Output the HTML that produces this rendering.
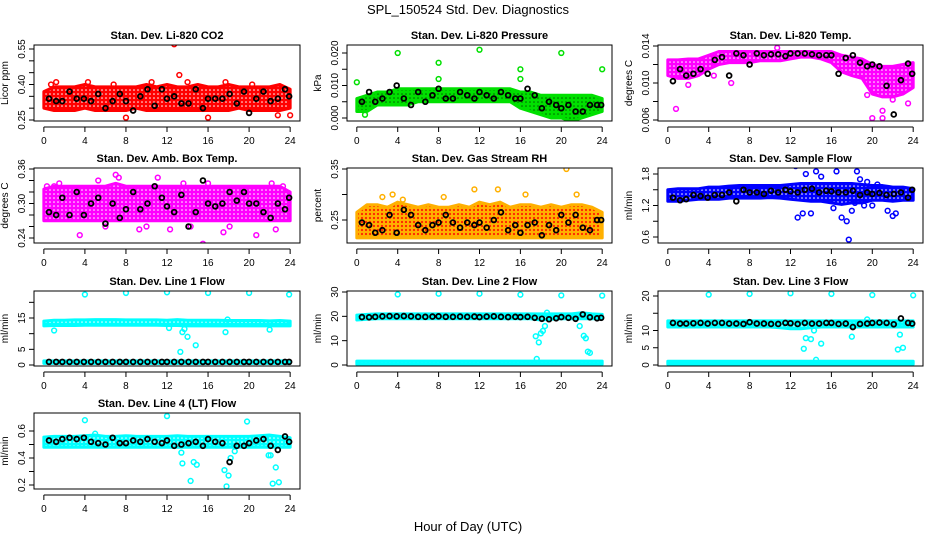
<!DOCTYPE html>
<html><head><meta charset="utf-8"><style>
html,body{margin:0;padding:0;background:#fff}
svg{display:block;font-family:"Liberation Sans",sans-serif}
</style></head><body>
<svg id="chart" width="936" height="540" viewBox="0 0 936 540">
<defs id="defs"></defs>
<text x="468" y="14" text-anchor="middle" font-size="13">SPL_150524  Std. Dev. Diagnostics</text>
<text x="468" y="531" text-anchor="middle" font-size="13">Hour of Day (UTC)</text>
</svg>
<script>
const hours = [0,1,2,3,4,5,6,7,8,9,10,11,12,13,14,15,16,17,18,19,20,21,22,23,24];
const blackX = [0.5,1.2,1.8,2.5,3.2,3.9,4.6,5.3,6.0,6.7,7.4,8.0,8.7,9.4,10.1,10.8,11.5,12.0,12.7,13.4,14.1,14.8,15.5,16.0,16.7,17.4,18.1,18.8,19.5,20.0,20.7,21.4,22.1,22.8,23.5,23.9];
const xTicks = [0,4,8,12,16,20,24];

const co2Lo = [0.30,0.29,0.29,0.29,0.30,0.29,0.29,0.29,0.29,0.30,0.29,0.29,0.29,0.29,0.29,0.29,0.29,0.29,0.29,0.30,0.29,0.29,0.29,0.29,0.30];
const co2Hi = [0.37,0.39,0.39,0.39,0.40,0.39,0.39,0.39,0.39,0.39,0.40,0.39,0.40,0.39,0.39,0.40,0.39,0.39,0.40,0.39,0.39,0.39,0.39,0.40,0.38];
const co2Black = [0.34,0.33,0.33,0.37,0.34,0.34,0.33,0.36,0.30,0.33,0.36,0.33,0.29,0.35,0.38,0.31,0.38,0.34,0.35,0.32,0.32,0.38,0.30,0.34,0.34,0.34,0.36,0.32,0.37,0.28,0.34,0.37,0.33,0.34,0.38,0.35];
const co2OutX = [12.7,13.2,16.0,8.0,24.0,4.3,0.7,10.5,17.7,22.8,6.8,14.0,20.3,1.2];
const co2OutY = [0.57,0.44,0.26,0.26,0.27,0.41,0.40,0.41,0.41,0.27,0.40,0.41,0.40,0.41];

const presLo = [0.002,0.002,0.004,0.004,0.004,0.004,0.005,0.005,0.005,0.005,0.005,0.005,0.005,0.005,0.005,0.005,0.003,0.002,0.001,0.000,0.000,-0.001,0.000,0.001,0.002];
const presHi = [0.006,0.007,0.008,0.008,0.009,0.009,0.009,0.009,0.009,0.009,0.009,0.009,0.009,0.009,0.009,0.009,0.008,0.008,0.007,0.007,0.007,0.007,0.007,0.007,0.006];
const presBlack = [0.005,0.008,0.005,0.006,0.008,0.010,0.006,0.004,0.008,0.005,0.007,0.009,0.006,0.006,0.008,0.007,0.006,0.008,0.007,0.006,0.008,0.007,0.006,0.006,0.009,0.007,0.003,0.005,0.004,0.003,0.004,0.002,0.002,0.004,0.004,0.004];
const presOutX = [0,4,8,8,12,16,16,20,24,0.8];
const presOutY = [0.011,0.020,0.017,0.012,0.021,0.015,0.012,0.020,0.015,0.001];

const tempLo = [0.0108,0.0105,0.0105,0.0108,0.0115,0.0120,0.0122,0.0122,0.0122,0.0124,0.0124,0.0124,0.0126,0.0128,0.0128,0.0126,0.0122,0.0112,0.0108,0.0105,0.0088,0.0085,0.0085,0.0088,0.0095];
const tempHi = [0.0125,0.0125,0.0126,0.0126,0.0130,0.0134,0.0134,0.0134,0.0134,0.0134,0.0134,0.0134,0.0134,0.0134,0.0134,0.0134,0.0134,0.0130,0.0128,0.0126,0.0120,0.0118,0.0118,0.0120,0.0122];
const tempBlack = [0.0102,0.0115,0.0108,0.0110,0.0115,0.0110,0.0125,0.0128,0.0108,0.0132,0.0130,0.0120,0.0132,0.0130,0.0131,0.0131,0.0129,0.0132,0.0132,0.0132,0.0131,0.0130,0.0130,0.0130,0.0110,0.0127,0.0130,0.0122,0.0118,0.0120,0.0118,0.0097,0.0066,0.0103,0.0121,0.0110];
const tempOutX = [0.8,20.0,21.0,21.0,23.5,10.7,4.5,6.2,19.5,22.0,2.0];
const tempOutY = [0.0072,0.0062,0.0062,0.0070,0.0078,0.0138,0.0108,0.0100,0.0087,0.0082,0.0098];

const ambLo = [0.27,0.27,0.27,0.27,0.27,0.27,0.27,0.27,0.27,0.27,0.27,0.27,0.27,0.27,0.27,0.27,0.27,0.27,0.27,0.27,0.27,0.27,0.27,0.27,0.27];
const ambHi = [0.325,0.33,0.33,0.33,0.33,0.33,0.33,0.335,0.33,0.33,0.33,0.33,0.33,0.33,0.33,0.33,0.33,0.33,0.33,0.33,0.33,0.33,0.33,0.33,0.32];
const ambBlack = [0.285,0.28,0.31,0.28,0.32,0.28,0.30,0.31,0.265,0.30,0.275,0.29,0.32,0.29,0.30,0.33,0.31,0.295,0.285,0.315,0.26,0.285,0.34,0.30,0.295,0.30,0.32,0.305,0.32,0.30,0.30,0.285,0.275,0.30,0.29,0.31];
const ambOutX = [0.3,1.0,1.5,3.5,5.3,7.0,7.3,9.3,11.1,13.6,15.5,16.0,17.5,18.1,20.7,22.2,22.6,23.3,6.0,10.0,12.3,14.3];
const ambOutY = [0.33,0.33,0.335,0.245,0.34,0.35,0.345,0.255,0.345,0.335,0.23,0.335,0.25,0.26,0.245,0.335,0.255,0.33,0.26,0.26,0.255,0.26];

const rhLo = [0.215,0.215,0.215,0.215,0.215,0.215,0.215,0.215,0.215,0.215,0.215,0.215,0.215,0.215,0.215,0.215,0.215,0.215,0.215,0.215,0.215,0.215,0.215,0.215,0.215];
const rhHi = [0.265,0.28,0.28,0.275,0.285,0.28,0.275,0.28,0.275,0.275,0.28,0.275,0.285,0.28,0.285,0.275,0.28,0.28,0.275,0.28,0.275,0.28,0.28,0.275,0.265];
const rhBlack = [0.245,0.24,0.225,0.23,0.26,0.225,0.27,0.26,0.24,0.23,0.24,0.245,0.26,0.245,0.235,0.245,0.24,0.245,0.235,0.25,0.265,0.23,0.24,0.225,0.24,0.245,0.22,0.24,0.23,0.26,0.245,0.26,0.235,0.23,0.25,0.25];
const rhOutX = [20.5,13.8,2.5,3.5,4.5,11.5,16.5,21.5,8.5];
const rhOutY = [0.35,0.31,0.295,0.30,0.29,0.31,0.30,0.30,0.295];

const flowLo = [1.28,1.28,1.30,1.32,1.32,1.32,1.34,1.34,1.34,1.34,1.35,1.34,1.32,1.30,1.28,1.28,1.25,1.22,1.25,1.25,1.30,1.30,1.28,1.30,1.30];
const flowHi = [1.50,1.52,1.52,1.52,1.55,1.55,1.57,1.58,1.58,1.58,1.58,1.58,1.60,1.62,1.62,1.62,1.62,1.62,1.62,1.60,1.58,1.58,1.55,1.55,1.52];
const flowBlack = [1.35,1.30,1.32,1.40,1.38,1.35,1.40,1.40,1.45,1.28,1.50,1.45,1.45,1.42,1.48,1.45,1.50,1.47,1.45,1.50,1.52,1.45,1.48,1.47,1.45,1.45,1.48,1.40,1.45,1.42,1.44,1.40,1.42,1.45,1.35,1.50];
const flowOutX = [12.5,12.7,13.2,14.0,14.5,16.2,17.0,17.5,17.7,18.0,18.3,18.5,18.8,19.2,19.5,20.5,21.5,22.0,22.3,13.5,15.0,16.5,20.0];
const flowOutY = [1.95,0.97,1.05,1.05,1.85,1.15,0.97,0.90,0.55,1.10,1.25,1.85,1.70,1.20,1.65,1.60,1.10,1.00,1.05,1.80,1.75,1.85,1.20];

const l1Lo = [12.5,12.6,12.6,12.6,12.7,12.7,12.7,12.7,12.7,12.7,12.7,12.7,12.6,12.6,12.5,12.5,12.5,12.5,12.5,12.5,12.5,12.5,12.5,12.5,12.5];
const l1Hi = [14.0,14.3,14.3,14.4,14.4,14.5,14.5,14.5,14.4,14.4,14.4,14.4,14.3,14.5,14.3,14.3,14.3,14.3,14.2,14.2,14.2,14.2,14.1,14.2,14.0];
const l1Lo2 = [0.5,0.5,0.5,0.5,0.5,0.5,0.5,0.5,0.5,0.5,0.5,0.5,0.5,0.5,0.5,0.5,0.5,0.5,0.5,0.5,0.5,0.5,0.5,0.5,0.5];
const l1Hi2 = [1.3,1.3,1.3,1.3,1.3,1.3,1.3,1.3,1.3,1.3,1.3,1.3,1.3,1.3,1.3,1.3,1.3,1.3,1.3,1.3,1.3,1.3,1.3,1.3,1.3];
const l1Black = [1.0,1.0,1.0,1.0,1.0,1.0,1.0,1.0,1.0,1.0,1.0,1.0,1.0,1.0,1.0,1.0,1.0,1.0,1.0,1.0,1.0,1.0,1.0,1.0,1.0,1.0,1.0,1.0,1.0,1.0,1.0,1.0,1.0,1.0,1.0,1.0];
const l1OutX = [4,8,12,16,20,23.9,1.0,13.5,13.7,14.0,14.8,13.3,17.7,17.9,22.0,12.2];
const l1OutY = [22.5,23.0,23.2,23.0,23.0,22.5,11.0,10.5,11.5,9.0,6.3,4.2,10.5,14.5,11.3,11.8];

const l2Lo = [18.5,18.8,19.0,19.0,19.0,19.0,19.0,19.0,19.0,19.0,19.0,19.0,19.0,19.0,19.0,19.0,19.0,19.0,18.5,18.8,19.0,19.0,19.0,19.0,19.0];
const l2Hi = [20.5,20.8,21.0,21.0,21.0,21.0,21.0,21.0,21.0,21.0,21.0,21.0,21.0,21.0,21.0,21.0,21.0,21.0,21.0,21.0,21.0,21.0,21.5,21.0,20.8];
const l2Lo2 = [0.3,0.3,0.3,0.3,0.3,0.3,0.3,0.3,0.3,0.3,0.3,0.3,0.3,0.3,0.3,0.3,0.3,0.3,0.3,0.3,0.3,0.3,0.3,0.3,0.3];
const l2Hi2 = [1.6,1.6,1.6,1.6,1.6,1.6,1.6,1.6,1.6,1.6,1.6,1.6,1.6,1.6,1.6,1.6,1.6,1.6,1.6,1.6,1.6,1.6,1.6,1.6,1.6];
const l2Black = [19.7,19.6,19.8,20.0,20.1,20.0,20.1,20.0,19.8,19.8,19.9,20.0,19.8,19.8,19.9,19.8,19.9,19.7,19.9,20.0,19.8,19.7,19.8,19.7,19.8,19.4,19.0,18.8,19.2,19.7,19.4,19.0,20.8,19.6,19.2,19.4];
const l2OutX = [4,8,12,16,20,24,17.5,17.8,18.0,18.2,18.4,18.6,21.8,22.2,22.4,22.6,22.8,17.6];
const l2OutY = [29.0,29.3,29.3,28.9,28.6,28.5,11.8,9.3,13.0,14.0,16.0,21.5,16.0,12.0,11.0,5.5,5.0,2.5];

const l3Lo = [11.0,11.0,11.0,11.0,11.0,11.0,11.0,11.0,11.0,11.0,11.0,10.8,10.5,10.5,10.8,11.0,11.0,11.0,11.0,11.0,11.0,11.0,11.0,11.0,11.0];
const l3Hi = [12.8,12.8,12.8,12.8,12.8,12.8,12.8,12.8,12.8,12.8,12.8,12.8,12.8,12.8,12.8,12.8,12.8,12.8,12.8,12.8,12.8,12.8,12.8,12.8,12.8];
const l3Lo2 = [0.2,0.2,0.2,0.2,0.2,0.2,0.2,0.2,0.2,0.2,0.2,0.2,0.2,0.2,0.2,0.2,0.2,0.2,0.2,0.2,0.2,0.2,0.2,0.2,0.2];
const l3Hi2 = [1.1,1.1,1.1,1.1,1.1,1.1,1.1,1.1,1.1,1.1,1.1,1.1,1.1,1.1,1.1,1.1,1.1,1.1,1.1,1.1,1.1,1.1,1.1,1.1,1.1];
const l3Black = [12.2,12.0,12.0,12.1,12.2,12.0,12.2,12.2,12.0,12.0,11.9,12.4,12.0,12.0,11.9,11.9,12.2,12.1,11.9,12.2,12.0,12.0,12.2,12.2,11.9,12.0,11.0,11.9,12.0,12.2,12.3,12.2,11.8,13.5,12.2,12.0];
const l3OutX = [4,8,12,16,20,24,13.3,13.5,14.0,14.3,15.0,18.0,22.5,22.7,23.0,14.5,19.5];
const l3OutY = [20.4,20.6,20.8,20.6,20.3,20.2,4.7,7.8,7.5,10.0,6.2,8.2,4.5,8.8,5.0,1.5,13.2];

const l4Lo = [0.48,0.48,0.48,0.48,0.48,0.48,0.48,0.48,0.48,0.48,0.48,0.48,0.48,0.48,0.48,0.48,0.48,0.48,0.48,0.48,0.48,0.48,0.48,0.48,0.48];
const l4Hi = [0.555,0.56,0.56,0.56,0.565,0.57,0.56,0.56,0.565,0.56,0.56,0.56,0.56,0.565,0.56,0.56,0.56,0.56,0.56,0.56,0.56,0.565,0.57,0.56,0.55];
const l4Black = [0.53,0.52,0.54,0.55,0.54,0.55,0.52,0.51,0.50,0.55,0.51,0.51,0.53,0.52,0.54,0.52,0.51,0.53,0.49,0.50,0.51,0.52,0.49,0.54,0.52,0.51,0.37,0.49,0.49,0.51,0.53,0.54,0.49,0.46,0.56,0.52];
const l4OutX = [4,12,19.8,13.5,14.3,14.6,14.9,13.4,17.6,17.8,18.0,18.2,18.6,21.9,22.1,22.3,22.6,22.9,5.0];
const l4OutY = [0.68,0.71,0.67,0.36,0.23,0.37,0.35,0.44,0.31,0.19,0.27,0.40,0.45,0.42,0.42,0.21,0.33,0.22,0.58];

const svg = document.getElementById('chart');
const defs = document.getElementById('defs');
const NS = 'http://www.w3.org/2000/svg';
function mk(tag, attrs, parent){ const e=document.createElementNS(NS,tag); for(const k in attrs) e.setAttribute(k,attrs[k]); (parent||svg).appendChild(e); return e; }

const cols = [[34,300],[347,612],[658,923]];
const rows = [[45,121],[168,243],[291,366],[413,489]];
const panels = [
 {key:'co2',title:'Stan. Dev. Li-820 CO2',ylab:'Licor ppm',c:0,r:0,v1:0.25,p1:120,v2:0.55,p2:49,ticks:[0.25,0.30,0.35,0.40,0.45,0.50,0.55],labels:[0.25,0.40,0.55],dig:2,col:'#ff0000',dot:'#fff',dr:0.8,lo:co2Lo,hi:co2Hi,by:co2Black,ox:co2OutX,oy:co2OutY},
 {key:'pressure',title:'Stan. Dev. Li-820 Pressure',ylab:'kPa',c:1,r:0,v1:0,p1:118,v2:0.02,p2:53,ticks:[0,0.005,0.01,0.015,0.02],labels:[0,0.01,0.02],dig:3,col:'#00e000',dot:'#006600',dr:0.8,lo:presLo,hi:presHi,by:presBlack,ox:presOutX,oy:presOutY},
 {key:'temp',title:'Stan. Dev. Li-820 Temp.',ylab:'degrees C',c:2,r:0,v1:0.006,p1:120,v2:0.014,p2:46,ticks:[0.006,0.008,0.01,0.012,0.014],labels:[0.006,0.01,0.014],dig:3,col:'#ff00ff',dot:'#fff',dr:0.8,lo:tempLo,hi:tempHi,by:tempBlack,ox:tempOutX,oy:tempOutY},
 {key:'amb',title:'Stan. Dev. Amb. Box Temp.',ylab:'degrees C',c:0,r:1,v1:0.24,p1:238,v2:0.36,p2:169,ticks:[0.24,0.26,0.28,0.30,0.32,0.34,0.36],labels:[0.24,0.30,0.36],dig:2,col:'#ff00ff',dot:'#fff',dr:0.8,lo:ambLo,hi:ambHi,by:ambBlack,ox:ambOutX,oy:ambOutY},
 {key:'rh',title:'Stan. Dev. Gas Stream RH',ylab:'percent',c:1,r:1,v1:0.25,p1:220,v2:0.35,p2:169,ticks:[0.25,0.30,0.35],labels:[0.25,0.35],dig:2,col:'#ffb000',dot:'#ff2000',dr:1.1,lo:rhLo,hi:rhHi,by:rhBlack,ox:rhOutX,oy:rhOutY},
 {key:'sample-flow',title:'Stan. Dev. Sample Flow',ylab:'ml/min',c:2,r:1,v1:0.6,p1:237,v2:1.8,p2:174,ticks:[0.6,0.9,1.2,1.5,1.8],labels:[0.6,1.2,1.8],dig:1,col:'#0000ff',dot:'#fff',dr:0.8,lo:flowLo,hi:flowHi,by:flowBlack,ox:flowOutX,oy:flowOutY},
 {key:'line1',title:'Stan. Dev. Line 1 Flow',ylab:'ml/min',c:0,r:2,v1:0,p1:365,v2:15,p2:318,ticks:[0,5,10,15,20],labels:[0,5,15],dig:0,col:'#00ffff',dot:'#fff',dr:0.8,lo:l1Lo,hi:l1Hi,lo2:l1Lo2,hi2:l1Hi2,by:l1Black,ox:l1OutX,oy:l1OutY},
 {key:'line2',title:'Stan. Dev. Line 2 Flow',ylab:'ml/min',c:1,r:2,v1:0,p1:365,v2:30,p2:292,ticks:[0,10,20,30],labels:[0,10,20,30],dig:0,col:'#00ffff',dot:'#fff',dr:0.8,lo:l2Lo,hi:l2Hi,lo2:l2Lo2,hi2:l2Hi2,by:l2Black,ox:l2OutX,oy:l2OutY},
 {key:'line3',title:'Stan. Dev. Line 3 Flow',ylab:'ml/min',c:2,r:2,v1:0,p1:365,v2:20,p2:296,ticks:[0,5,10,15,20],labels:[0,5,10,20],dig:0,col:'#00ffff',dot:'#fff',dr:0.8,lo:l3Lo,hi:l3Hi,lo2:l3Lo2,hi2:l3Hi2,by:l3Black,ox:l3OutX,oy:l3OutY},
 {key:'line4',title:'Stan. Dev. Line 4 (LT) Flow',ylab:'ml/min',c:0,r:3,v1:0.2,p1:485,v2:0.6,p2:431,ticks:[0.2,0.3,0.4,0.5,0.6],labels:[0.2,0.4,0.6],dig:1,col:'#00ffff',dot:'#fff',dr:0.8,lo:l4Lo,hi:l4Hi,by:l4Black,ox:l4OutX,oy:l4OutY}
];

panels.forEach((p,i)=>{
  const [x0,x1]=cols[p.c], [y0,y1]=rows[p.r];
  const X = h => x0 + (x1-x0)*(h+0.96)/25.92;
  const Y = v => p.p1 + (v-p.v1)*(p.p2-p.p1)/(p.v2-p.v1);
  const g = mk('g',{});
  
  
  const pat = mk('pattern',{id:'pat'+i,width:4,height:4,patternUnits:'userSpaceOnUse'},defs);
  mk('rect',{width:4,height:4,fill:p.col},pat);
  mk('circle',{cx:2,cy:2,r:p.dr,fill:p.dot},pat);
  const cp = mk('clipPath',{id:'clip'+i},defs);
  mk('rect',{x:x0,y:y0,width:x1-x0,height:y1-y0},cp);
  const t = mk('text',{x:(x0+x1)/2,y:y0-6,'text-anchor':'middle','font-size':11,'font-weight':'bold'},g);
  t.textContent = p.title;
  
  
  const yl = mk('text',{x:0,y:0,'text-anchor':'middle','font-size':10,transform:`translate(${x0-26},${(y0+y1)/2}) rotate(-90)`},g);
  yl.textContent = p.ylab;
  
  
  const plot = mk('g',{'clip-path':`url(#clip${i})`},g);
  
  
  const band = (lo,hi)=>{
    let pts = hours.map((h,j)=>X(h)+','+Y(hi[j]));
    pts = pts.concat(hours.map((h,j)=>X(h)+','+Y(lo[j])).reverse());
    const b = mk('polygon',{points:pts.join(' '),fill:`url(#pat${i})`,stroke:p.col,'stroke-width':3,'stroke-linejoin':'round'},plot);
    
    
  };
  band(p.lo,p.hi);
  if(p.lo2) band(p.lo2,p.hi2);
  p.ox.forEach((h,j)=>{
    const c = mk('circle',{cx:X(h),cy:Y(p.oy[j]),r:2.4,fill:'none',stroke:p.col,'stroke-width':1.5},plot);
    
    
  });
  blackX.forEach((h,j)=>{
    const c = mk('circle',{cx:X(h),cy:Y(p.by[j]),r:2.4,fill:'none',stroke:'#000','stroke-width':1.8},plot);
    
    
  });
  mk('rect',{x:x0,y:y0,width:x1-x0,height:y1-y0,fill:'none',stroke:'#000','stroke-width':1},g);
  const xa = mk('g',{},g);
  
  
  const ay = y1+6;
  mk('line',{x1:X(0),x2:X(24),y1:ay,y2:ay,stroke:'#000'},xa);
  xTicks.forEach(v=>{
    mk('line',{x1:X(v),x2:X(v),y1:ay,y2:ay+5,stroke:'#000'},xa);
    const tl = mk('text',{x:X(v),y:ay+17,'text-anchor':'middle','font-size':10},xa);
    tl.textContent = v;
    
    
  });
  const ya = mk('g',{},g);
  
  
  const t0=p.ticks[0], tn=p.ticks[p.ticks.length-1];
  mk('line',{x1:x0,x2:x0,y1:Y(t0),y2:Y(tn),stroke:'#000'},ya);
  p.ticks.forEach(v=>{ mk('line',{x1:x0-5,x2:x0,y1:Y(v),y2:Y(v),stroke:'#000'},ya); });
  p.labels.forEach(v=>{
    const tl = mk('text',{x:0,y:0,'text-anchor':'middle','font-size':10,transform:`translate(${x0-9},${Y(v)}) rotate(-90)`},ya);
    tl.textContent = v.toFixed(p.dig);
    
    
  });
});
</script>
</body></html>
